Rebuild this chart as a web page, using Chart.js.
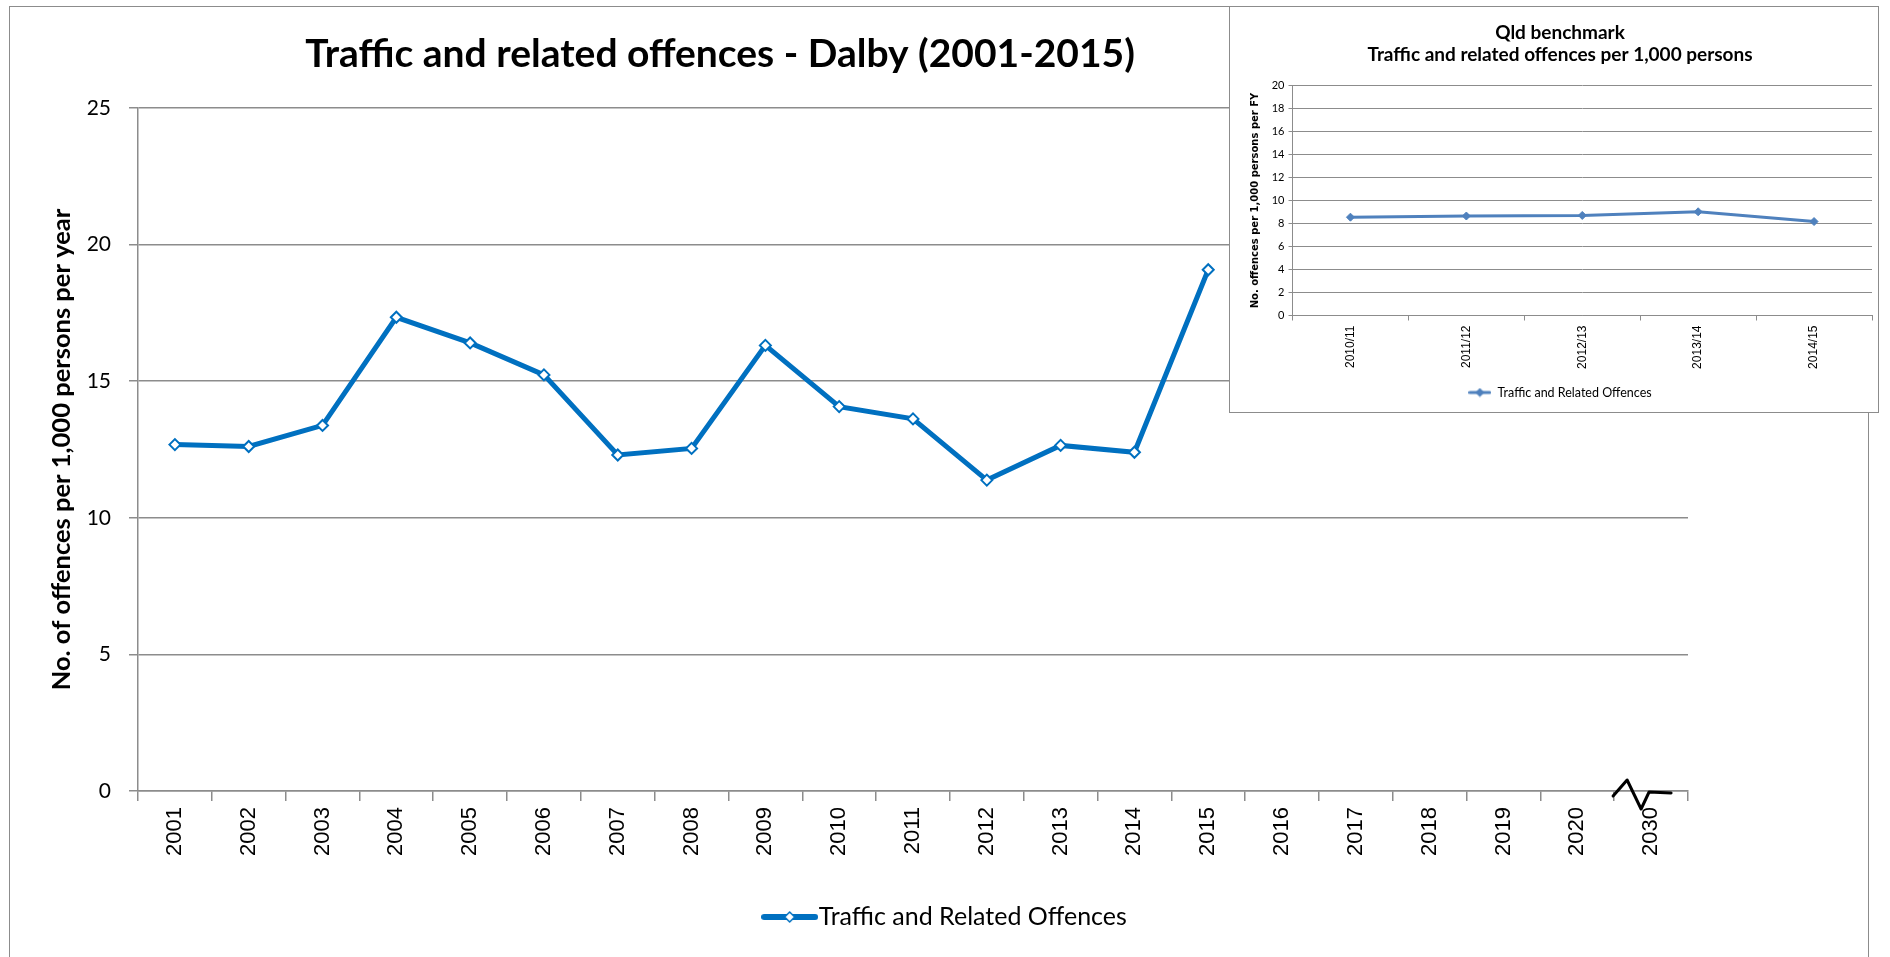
<!DOCTYPE html>
<html><head><meta charset="utf-8">
<script src="https://cdn.jsdelivr.net/npm/chart.js@4.4.0/dist/chart.umd.min.js"></script>
<style>
html,body{margin:0;padding:0;background:#fff;overflow:hidden;width:1890px;height:957px}
#frame{position:absolute;left:9px;top:6px;width:1860px;height:1000px;border:1.5px solid #8c8c8c;box-sizing:border-box}
#mainWrap{position:absolute;left:0;top:0;width:1890px;height:957px}
#inset{position:absolute;left:1229px;top:6px;width:650px;height:407px;border:1.5px solid #8c8c8c;box-sizing:border-box;background:#fff}
#insetWrap{position:absolute;left:0;top:0;width:647px;height:404px}
</style></head>
<body>
<div id="frame"></div>
<div id="mainWrap"><canvas id="main"></canvas></div>
<div id="inset"><div id="insetWrap"><canvas id="qld"></canvas></div></div>
<script>
// ---- data ----
const years = ['2001','2002','2003','2004','2005','2006','2007','2008','2009','2010','2011','2012','2013','2014','2015','2016','2017','2018','2019','2020','2030'];
const dalbyRates = [12.68,12.61,13.38,17.34,16.40,15.23,12.30,12.54,16.31,14.07,13.62,11.38,12.65,12.40,19.08,null,null,null,null,null,null];
const mainYTicks = [0,5,10,15,20,25];
const qldYears = ['2010/11','2011/12','2012/13','2013/14','2014/15'];
const qldRates = [8.55,8.65,8.70,9.02,8.17];
const qldYTicks = [0,2,4,6,8,10,12,14,16,18,20];
const seriesName = 'Traffic and Related Offences';
const mainTitle = 'Traffic and related offences - Dalby (2001-2015)';
const mainYTitle = 'No. of offences per 1,000 persons per year';
const qldTitle = ['Qld benchmark', 'Traffic and related offences per 1,000 persons'];
const qldYTitle = 'No. offences per 1,000 persons per FY';

const GRID = '#8c8c8c';
const MAIN_BLUE = '#0070C0';
const QLD_BLUE = '#4F81BD';
const CAL = 'Lato, "Open Sans", sans-serif';

function legendIcon(w, h, lw, r, color, fill) {
  const c = document.createElement('canvas');
  c.width = w; c.height = h;
  const g = c.getContext('2d');
  g.strokeStyle = color; g.lineWidth = lw; g.lineCap = 'round';
  g.beginPath(); g.moveTo(lw/2, h/2); g.lineTo(w - lw/2, h/2); g.stroke();
  g.beginPath();
  g.moveTo(w/2, h/2 - r); g.lineTo(w/2 + r, h/2); g.lineTo(w/2, h/2 + r); g.lineTo(w/2 - r, h/2); g.closePath();
  g.fillStyle = fill; g.fill();
  g.lineWidth = 1.5; g.strokeStyle = color; g.stroke();
  return c;
}

// main title placed like the original (left of centre)
const manualTitle = {
  id: 'manualTitle',
  afterDraw(chart) {
    const ctx = chart.ctx;
    ctx.save();
    ctx.font = 'bold 39px ' + CAL;
    ctx.fillStyle = '#000';
    ctx.textAlign = 'center';
    ctx.textBaseline = 'alphabetic';
    ctx.fillText(mainTitle, chart.width * 0.381, 67);
    ctx.restore();
  }
};

// decorative axis break near the last category
const axisBreak = {
  id: 'axisBreak',
  afterDraw(chart) {
    const xs = chart.scales.x;
    const cx = xs.getPixelForValue(years.length - 1);
    const y0 = chart.chartArea.bottom;
    const ctx = chart.ctx;
    ctx.save();
    ctx.strokeStyle = '#000'; ctx.lineWidth = 3; ctx.lineJoin = 'round'; ctx.lineCap = 'round';
    ctx.beginPath();
    ctx.moveTo(cx - 38, y0 + 5);
    ctx.lineTo(cx - 24, y0 - 11);
    ctx.lineTo(cx - 10, y0 + 18);
    ctx.lineTo(cx - 2, y0 + 1);
    ctx.lineTo(cx + 20, y0 + 2);
    ctx.stroke();
    ctx.restore();
  }
};

const mainIcon = legendIcon(57, 16, 6, 5, MAIN_BLUE, '#ffffff');

new Chart(document.getElementById('main'), {
  type: 'line',
  data: {
    labels: years,
    datasets: [{
      label: seriesName,
      data: dalbyRates,
      borderColor: MAIN_BLUE,
      borderWidth: 5,
      pointStyle: 'rectRot',
      pointRadius: 5.5,
      pointBorderWidth: 2,
      pointBackgroundColor: '#ffffff',
      pointBorderColor: MAIN_BLUE,
      tension: 0,
      spanGaps: false
    }]
  },
  options: {
    responsive: true,
    maintainAspectRatio: false,
    animation: false,
    layout: { padding: { left: 10, right: 0, top: 108, bottom: 17.5 } },
    plugins: {
      title: { display: false },
      legend: {
        display: true,
        position: 'bottom',
        labels: {
          usePointStyle: true,
          pointStyleWidth: 33,
          color: '#000',
          font: { family: CAL, size: 25 },
          padding: 10,
          generateLabels(chart) {
            return [{ text: seriesName, pointStyle: mainIcon, fillStyle: MAIN_BLUE, strokeStyle: MAIN_BLUE, lineWidth: 0, datasetIndex: 0, hidden: false }];
          }
        }
      },
      tooltip: { enabled: false }
    },
    scales: {
      x: {
        type: 'category',
        offset: true,
        grid: { display: true, offset: true, drawOnChartArea: false, drawTicks: true, tickLength: 10, color: GRID, lineWidth: 1.5 },
        border: { display: true, color: GRID, width: 1.5 },
        ticks: {
          autoSkip: false, minRotation: 90, maxRotation: 90,
          color: '#000', padding: 6,
          font: { family: '"Liberation Sans", Arial, sans-serif', size: 22 }
        },
        afterFit(s) { s.height = 103.5; }
      },
      y: {
        min: 0, max: 25,
        afterBuildTicks(s) { s.ticks = mainYTicks.map(v => ({ value: v })); },
        grid: { color: GRID, lineWidth: 1.5, drawTicks: true, tickLength: 9 },
        border: { display: true, color: GRID, width: 1.5 },
        ticks: { color: '#000', padding: 18, font: { family: CAL, size: 21 } },
        title: {
          display: true,
          text: mainYTitle,
          color: '#000',
          font: { family: CAL, size: 25.5, weight: 'bold' },
          padding: { top: 36.4, bottom: 0 }
        },
        afterFit(s) { s.width = 128; }
      },
      spacer: {
        type: 'linear',
        position: 'right',
        display: true,
        grid: { display: false, drawTicks: false },
        border: { display: false },
        ticks: { display: false },
        afterFit(s) { s.width = 202; }
      }
    }
  },
  plugins: [manualTitle, axisBreak]
});

const qldIcon = legendIcon(23, 10, 3, 3.5, QLD_BLUE, QLD_BLUE);

new Chart(document.getElementById('qld'), {
  type: 'line',
  data: {
    labels: qldYears,
    datasets: [{
      label: seriesName,
      data: qldRates,
      borderColor: QLD_BLUE,
      borderWidth: 3,
      pointStyle: 'rectRot',
      pointRadius: 4,
      pointBorderWidth: 1,
      pointBackgroundColor: QLD_BLUE,
      pointBorderColor: QLD_BLUE,
      tension: 0
    }]
  },
  options: {
    responsive: true,
    maintainAspectRatio: false,
    animation: false,
    layout: { padding: { left: 14, right: 1, top: 0, bottom: 2.25 } },
    plugins: {
      title: {
        display: true,
        text: qldTitle,
        color: '#000',
        font: { family: CAL, size: 19, weight: 'bold', lineHeight: 1.142 },
        padding: { top: 15, bottom: 20.1 }
      },
      legend: {
        display: true,
        position: 'bottom',
        labels: {
          usePointStyle: true,
          pointStyleWidth: 23,
          color: '#000',
          font: { family: CAL, size: 12.5 },
          padding: 8,
          generateLabels(chart) {
            return [{ text: seriesName, pointStyle: qldIcon, fillStyle: QLD_BLUE, strokeStyle: QLD_BLUE, lineWidth: 0, datasetIndex: 0, hidden: false }];
          }
        }
      },
      tooltip: { enabled: false }
    },
    scales: {
      x: {
        type: 'category',
        offset: true,
        grid: { display: true, offset: true, drawOnChartArea: false, drawTicks: true, tickLength: 5, color: GRID, lineWidth: 1 },
        border: { display: true, color: GRID, width: 1 },
        ticks: {
          autoSkip: false, minRotation: 90, maxRotation: 90,
          color: '#000', padding: 5,
          font: { family: '"Liberation Sans", Arial, sans-serif', size: 12 }
        },
        afterFit(s) { s.height = 62.75; }
      },
      y: {
        min: 0, max: 20,
        afterBuildTicks(s) { s.ticks = qldYTicks.map(v => ({ value: v })); },
        grid: { color: GRID, lineWidth: 1, drawTicks: true, tickLength: 4 },
        border: { display: true, color: GRID, width: 1 },
        ticks: { color: '#000', padding: 4, font: { family: CAL, size: 11 } },
        title: {
          display: true,
          text: qldYTitle,
          color: '#000',
          font: { family: '"DejaVu Sans", sans-serif', size: 10, weight: 'bold' },
          padding: { top: 5.5, bottom: 0 }
        },
        afterFit(s) { s.width = 48.5; }
      }
    }
  }
});
</script>
</body></html>
